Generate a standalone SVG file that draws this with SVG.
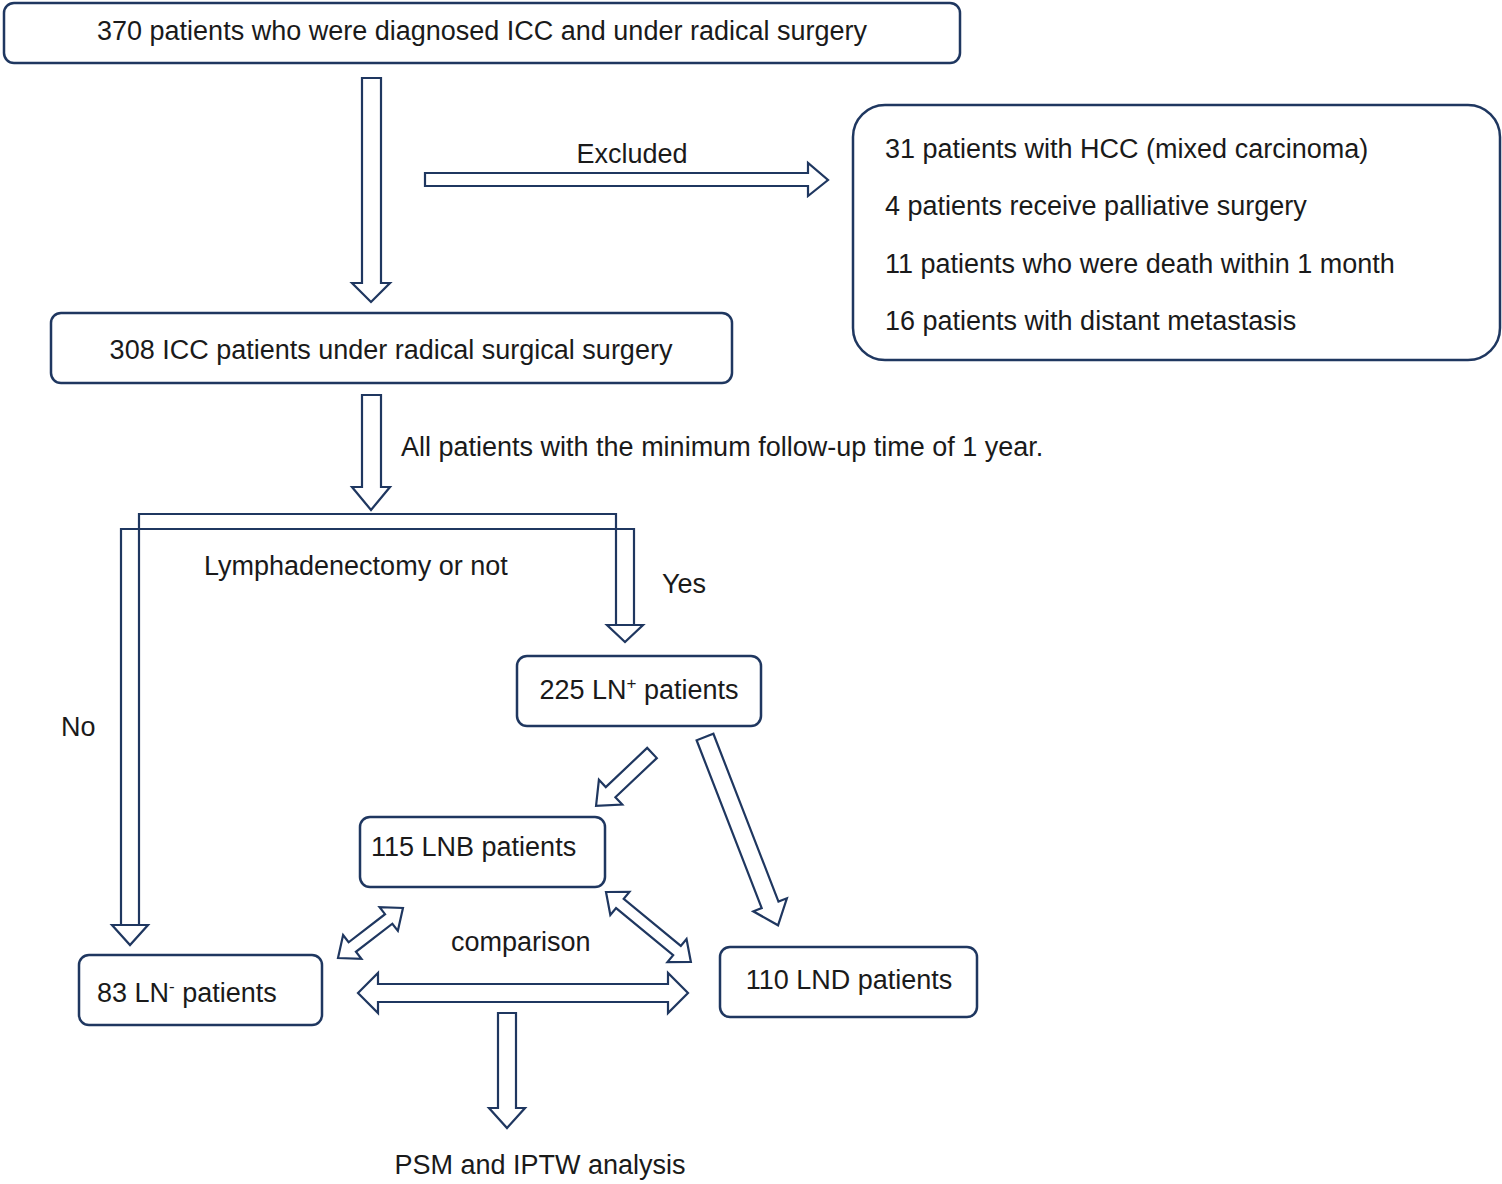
<svg xmlns="http://www.w3.org/2000/svg" width="1502" height="1184" viewBox="0 0 1502 1184">
<style>
.b{fill:#fff;stroke:#1f3760;stroke-width:2.5}
.a{fill:#fff;stroke:#1f3760;stroke-width:2.2;stroke-linejoin:miter}
.l{fill:none;stroke:#1f3760;stroke-width:2.2}
text{font-family:"Liberation Sans",Arial,sans-serif;font-size:27px;fill:#1a1a1a}
</style>
<rect width="1502" height="1184" fill="#fff"/>
<g id="connectors">
<path class="a" d="M362,78 H381 V283 H390 L371,302 L352,283 H362 Z"/>
<path class="a" d="M425,173 H808 V163 L828,180 L808,196 V186 H425 Z"/>
<path class="a" d="M362,395 H381 V487 H390 L371,510 L352,487 H362 Z"/>
<path class="l" d="M139,925 V514 H616 V625"/>
<path class="l" d="M121,925 V529 H634 V625"/>
<path class="a" d="M112,925 H148 L130,945 Z"/>
<path class="a" d="M607,625 H643 L625,642 Z"/>
<path class="a" transform="translate(652,753) rotate(136.6)" d="M0,-7 L57,-7 L57,-17 L77,0 L57,17 L57,7 L0,7 Z"/>
<path class="a" transform="translate(705,737) rotate(68.8)" d="M0,-9 L180,-9 L180,-18 L202,0 L180,18 L180,9 L0,9 Z"/>
<path class="a" transform="translate(338,958) rotate(-37.6)" d="M0,0 L18,-15 L18,-6 L64,-6 L64,-15 L82,0 L64,15 L64,6 L18,6 L18,15 Z"/>
<path class="a" transform="translate(606,892) rotate(39.5)" d="M0,0 L18,-15 L18,-6 L92,-6 L92,-15 L110,0 L92,15 L92,6 L18,6 L18,15 Z"/>
<path class="a" d="M358,993 L378,973 V984 H668 V973 L688,993 L668,1013 V1002 H378 V1013 Z"/>
<path class="a" d="M498,1013 H516 V1108 H525 L507,1128 L489,1108 H498 Z"/>
</g>
<g id="n1"><rect class="b" x="4" y="3" width="956" height="60" rx="10"/><text x="482" y="40" text-anchor="middle">370 patients who were diagnosed ICC and under radical surgery</text></g>
<g id="n2"><rect class="b" x="51" y="313" width="681" height="70" rx="10"/><text x="391" y="359" text-anchor="middle">308 ICC patients under radical surgical surgery</text></g>
<g id="n3"><rect class="b" x="853" y="105" width="647" height="255" rx="32"/>
<text x="885" y="158">31 patients with HCC (mixed carcinoma)</text>
<text x="885" y="215">4 patients receive palliative surgery</text>
<text x="885" y="273">11 patients who were death within 1 month</text>
<text x="885" y="330">16 patients with distant metastasis</text></g>
<g id="n4"><rect class="b" x="517" y="656" width="244" height="70" rx="10"/><text x="639" y="699" text-anchor="middle">225 LN<tspan font-size="17" dy="-10">+</tspan><tspan dy="10"> patients</tspan></text></g>
<g id="n5"><rect class="b" x="360" y="817" width="245" height="70" rx="10"/><text x="371" y="856">115 LNB patients</text></g>
<g id="n6"><rect class="b" x="79" y="955" width="243" height="70" rx="10"/><text x="97" y="1002">83 LN<tspan font-size="17" dy="-10">-</tspan><tspan dy="10"> patients</tspan></text></g>
<g id="n7"><rect class="b" x="720" y="947" width="257" height="70" rx="10"/><text x="849" y="989" text-anchor="middle">110 LND patients</text></g>
<g id="labels">
<text x="632" y="163" text-anchor="middle">Excluded</text>
<text x="401" y="456">All patients with the minimum follow-up time of 1 year.</text>
<text x="204" y="575">Lymphadenectomy or not</text>
<text x="662" y="593">Yes</text>
<text x="61" y="736">No</text>
<text x="451" y="951">comparison</text>
<text x="540" y="1174" text-anchor="middle">PSM and IPTW analysis</text>
</g>
</svg>
